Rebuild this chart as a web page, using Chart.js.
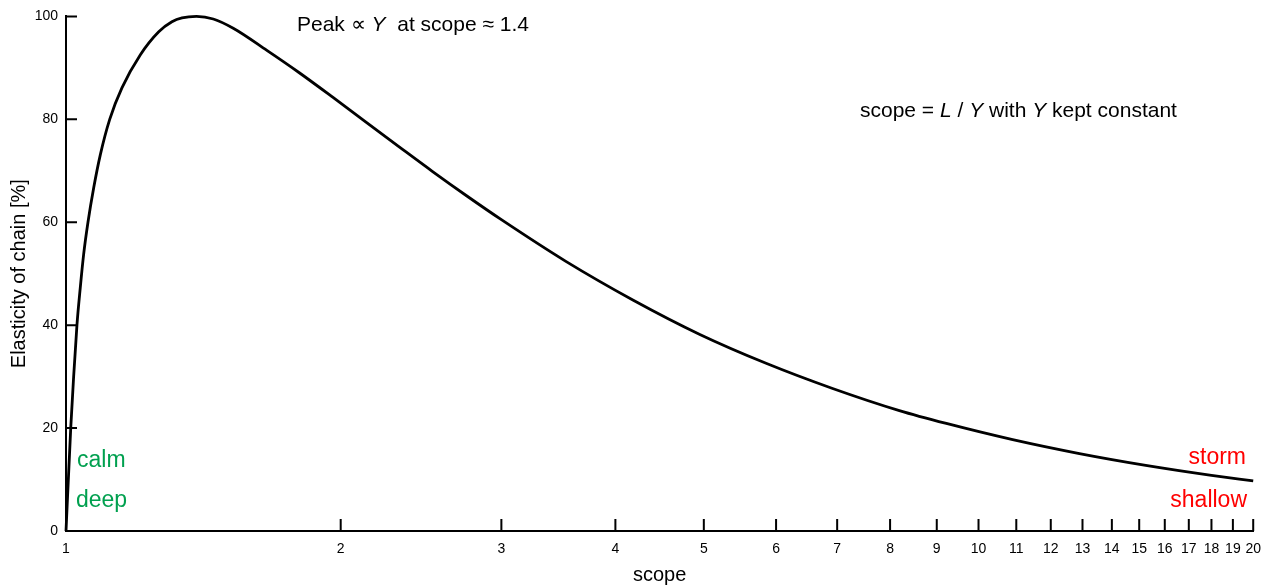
<!DOCTYPE html>
<html>
<head>
<meta charset="utf-8">
<script src="https://cdn.jsdelivr.net/npm/chart.js@4.4.0/dist/chart.umd.min.js"></script>
<style>
  html, body { margin: 0; padding: 0; background: #fff; }
  canvas { display: block; }
</style>
</head>
<body>
<canvas id="chart" width="1271" height="587"></canvas>
<script>
// Elasticity vs scope (L / Y)
const scope = [1, 1.012, 1.019, 1.028, 1.0367, 1.0456, 1.057, 1.0724, 1.0904, 1.1166,
  1.1516, 1.206, 1.2637, 1.3064, 1.34, 1.39, 1.45, 1.525, 1.66, 1.8, 1.96, 2.13,
  2.32, 2.52, 2.75, 3.0, 3.53, 4.18, 4.95, 5.85, 6.92, 8.19,
  9.22, 10.9, 12.9, 15.25, 18.0, 20];
const elasticity = [0, 20, 29.4, 40, 47.3, 53.8, 60, 66.7, 73.1, 80,
  86.1, 92.5, 97.0, 98.95, 99.7, 100, 99.5, 97.7, 93.4, 89.1, 84.3, 79.5,
  74.6, 69.9, 65.1, 60.5, 52.4, 44.9, 38.2, 32.6, 27.7, 23.4,
  20.9, 17.75, 15.04, 12.75, 10.81, 9.73];

const xTicks = [1, 2, 3, 4, 5, 6, 7, 8, 9, 10, 11, 12, 13, 14, 15, 16, 17, 18, 19, 20];
const yTicks = [0, 20, 40, 60, 80, 100];

const FONT = "'Liberation Sans', Arial, Helvetica, sans-serif";
const GREEN = '#00a04f';
const RED = '#ff0000';

// tick marks point inward, so draw them here instead of via the grid
const innerTicks = {
  id: 'innerTicks',
  afterDraw(chart) {
    const { ctx, chartArea, scales } = chart;
    ctx.save();
    ctx.strokeStyle = '#000';
    ctx.lineWidth = 2;
    ctx.beginPath();
    yTicks.forEach(v => {
      const y = scales.y.getPixelForValue(v);
      ctx.moveTo(chartArea.left, y);
      ctx.lineTo(chartArea.left + 11, y);
    });
    xTicks.forEach(v => {
      const x = scales.x.getPixelForValue(v);
      ctx.moveTo(x, chartArea.bottom);
      ctx.lineTo(x, chartArea.bottom - 12);
    });
    ctx.stroke();
    ctx.restore();
  }
};

// draw a line of text made of [text, italic] pieces
function drawPieces(ctx, pieces, x, y, size, color) {
  ctx.fillStyle = color;
  ctx.textBaseline = 'alphabetic';
  ctx.textAlign = 'left';
  pieces.forEach(([txt, italic]) => {
    ctx.font = (italic ? 'italic ' : '') + size + 'px ' + FONT;
    ctx.fillText(txt, x, y);
    x += ctx.measureText(txt).width;
  });
}

const notes = {
  id: 'notes',
  afterDraw(chart) {
    const ctx = chart.ctx;
    ctx.save();
    drawPieces(ctx, [['Peak \u221D ', false], ['Y', true], ['  at scope \u2248 1.4', false]], 297, 31, 21, '#000');
    drawPieces(ctx, [['scope = ', false], ['L', true], [' / ', false], ['Y', true],
      [' with ', false], ['Y', true], [' kept constant', false]], 860, 117, 21, '#000');

    ctx.font = '23px ' + FONT;
    ctx.textBaseline = 'alphabetic';
    ctx.fillStyle = GREEN;
    ctx.textAlign = 'left';
    ctx.fillText('calm', 77, 467);
    ctx.fillText('deep', 76, 507);
    ctx.fillStyle = RED;
    ctx.textAlign = 'right';
    ctx.fillText('storm', 1246, 464);
    ctx.fillText('shallow', 1247, 507);
    ctx.restore();
  }
};

new Chart(document.getElementById('chart'), {
  type: 'line',
  data: {
    datasets: [{
      data: scope.map((s, i) => ({ x: s, y: elasticity[i] })),
      borderColor: '#000',
      borderWidth: 2.8,
      pointRadius: 0,
      fill: false,
      cubicInterpolationMode: 'monotone',
      clip: false
    }]
  },
  options: {
    responsive: false,
    animation: false,
    events: [],
    layout: { autoPadding: false, padding: { top: 14, right: 17, left: 0, bottom: 0 } },
    plugins: { legend: { display: false }, tooltip: { enabled: false } },
    scales: {
      x: {
        type: 'logarithmic',
        min: 1,
        max: 20,
        afterBuildTicks: s => { s.ticks = xTicks.map(v => ({ value: v })); },
        afterFit: s => { s.height = 56; },
        grid: { display: false, drawTicks: false },
        border: { display: true, color: '#000', width: 2 },
        ticks: {
          autoSkip: false,
          maxRotation: 0,
          padding: 10,
          color: '#000',
          font: { family: FONT, size: 14 },
          callback: v => String(v)
        },
        title: {
          display: true,
          text: 'scope',
          color: '#000',
          font: { family: FONT, size: 20 },
          padding: { top: 0, bottom: 0 }
        }
      },
      y: {
        type: 'linear',
        min: 0,
        max: 100,
        afterFit: s => { s.width = 66; },
        grid: { display: false, drawTicks: false },
        border: { display: true, color: '#000', width: 2 },
        ticks: {
          stepSize: 20,
          padding: 8,
          color: '#000',
          font: { family: FONT, size: 14 }
        },
        title: {
          display: true,
          text: 'Elasticity of chain [%]',
          color: '#000',
          font: { family: FONT, size: 20 },
          padding: { top: 7, bottom: 0 }
        }
      }
    }
  },
  plugins: [innerTicks, notes]
});
</script>
</body>
</html>
